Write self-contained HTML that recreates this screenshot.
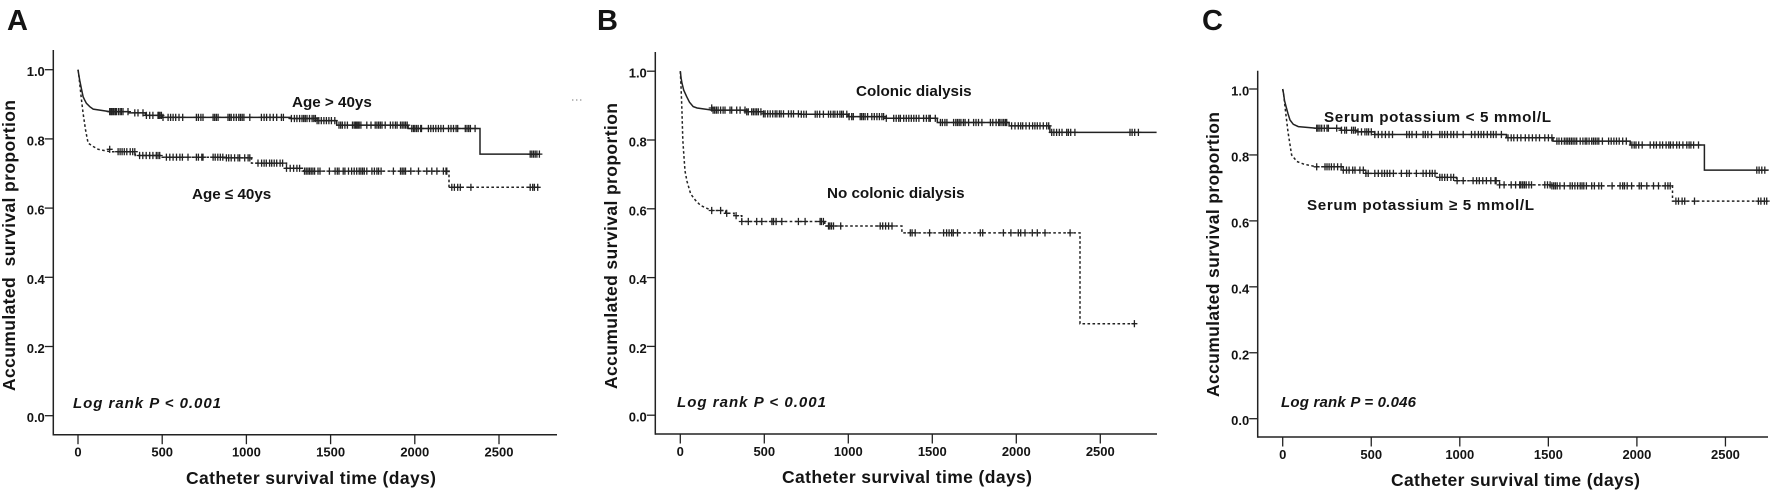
<!DOCTYPE html>
<html lang="en">
<head>
<meta charset="utf-8">
<title>Catheter survival curves</title>
<style>
html,body{margin:0;padding:0;background:#fff;width:1772px;height:491px;overflow:hidden}
svg{display:block}
text{font-family:"Liberation Sans",Arial,sans-serif;fill:#141414;font-weight:bold}
.panel{font-size:29px}
.title{font-size:17.5px}
.note{font-size:15.2px}
.logrank{font-size:15px;font-style:italic}
.tick{font-size:13px}
</style>
</head>
<body>
<svg id="chart" xmlns="http://www.w3.org/2000/svg" width="1772" height="491" viewBox="0 0 1772 491">
  <rect x="0" y="0" width="1772" height="491" fill="#fff"/>

  <text class="panel" x="7" y="30">A</text>
  <text class="panel" x="597" y="30">B</text>
  <text class="panel" x="1202" y="30">C</text>

  <text class="title" xml:space="preserve" transform="translate(15 391) rotate(-90)" textLength="291" lengthAdjust="spacing">Accumulated  survival proportion</text>
  <text class="title" transform="translate(617 389) rotate(-90)" textLength="286" lengthAdjust="spacing">Accumulated survival proportion</text>
  <text class="title" transform="translate(1219 397) rotate(-90)" textLength="285" lengthAdjust="spacing">Accumulated survival proportion</text>

  <text class="title" x="186" y="484" textLength="250" lengthAdjust="spacing">Catheter survival time (days)</text>
  <text class="title" x="782" y="483" textLength="250" lengthAdjust="spacing">Catheter survival time (days)</text>
  <text class="title" x="1391" y="486" textLength="249" lengthAdjust="spacing">Catheter survival time (days)</text>

  <text class="note" x="292" y="107">Age &gt; 40ys</text>
  <text class="note" x="192" y="199">Age ≤ 40ys</text>
  <text class="note" x="856" y="96">Colonic dialysis</text>
  <text class="note" x="827" y="198">No colonic dialysis</text>
  <text class="note" x="1324" y="122" textLength="227" lengthAdjust="spacing">Serum potassium &lt; 5 mmol/L</text>
  <text class="note" x="1307" y="210" textLength="227" lengthAdjust="spacing">Serum potassium ≥ 5 mmol/L</text>

  <text class="logrank" x="73" y="408" textLength="148" lengthAdjust="spacing">Log rank P &lt; 0.001</text>
  <text class="logrank" x="677" y="407" textLength="149" lengthAdjust="spacing">Log rank P &lt; 0.001</text>
  <text class="logrank" x="1281" y="407" textLength="135" lengthAdjust="spacing">Log rank P = 0.046</text>

  <path d="M572 100h1.4M576 100h1.4M580 100h1.4" stroke="#777" stroke-width="1" fill="none"/>
</svg>

<script>
const xTickValues = [0, 500, 1000, 1500, 2000, 2500];
const yTickValues = [0.0, 0.2, 0.4, 0.6, 0.8, 1.0];

const aSolidDays = [0,5,10,20,30,40,50,70,90,188,300,400,500,1260,1420,1536,1960,2387,2744];
const aSolidSurvival = [1,0.985,0.97,0.945,0.922,0.912,0.903,0.893,0.886,0.879,0.875,0.868,0.862,0.859,0.853,0.84,0.83,0.756,0.756];
const aSolidCensors = [188,195,200,207,214,222,228,240,250,258,267,297,337,356,386,406,426,445,475,480,487,495,505,535,550,565,580,600,622,703,715,730,742,802,812,822,832,891,900,910,925,940,955,965,975,985,1020,1089,1105,1120,1140,1160,1180,1208,1220,1267,1285,1300,1316,1330,1340,1350,1360,1375,1390,1400,1410,1420,1430,1445,1460,1475,1490,1505,1525,1550,1560,1570,1585,1600,1630,1640,1648,1655,1662,1670,1680,1715,1740,1765,1775,1785,1795,1805,1824,1855,1870,1885,1895,1915,1925,1935,1945,1955,1982,1992,2000,2010,2020,2035,2040,2081,2095,2110,2125,2140,2155,2170,2200,2215,2230,2245,2255,2300,2310,2320,2330,2358,2685,2695,2705,2715,2725,2740];

const aDashedDays = [0,5,10,20,30,45,60,90,120,192,340,487,880,1030,1238,1340,2203,2745];
const aDashedSurvival = [1,0.985,0.96,0.915,0.874,0.825,0.788,0.778,0.77,0.763,0.752,0.747,0.745,0.73,0.715,0.707,0.66,0.66];
const aDashedCensors = [188,238,250,262,275,290,310,325,337,366,385,405,426,445,465,475,485,525,545,565,585,605,620,653,703,715,735,742,802,815,830,845,860,881,895,910,930,950,960,990,1010,1020,1069,1090,1105,1118,1138,1150,1165,1180,1200,1215,1238,1260,1280,1300,1316,1345,1355,1365,1375,1385,1395,1405,1425,1437,1493,1527,1540,1550,1575,1585,1606,1625,1640,1655,1670,1680,1690,1700,1715,1745,1760,1775,1785,1800,1873,1915,1925,1935,1945,1976,2022,2071,2101,2131,2170,2185,2190,2220,2235,2255,2270,2333,2685,2700,2710,2730];

const bSolidDays = [0,5,10,20,38,55,77,100,190,395,495,713,1000,1226,1530,1957,2200,2835];
const bSolidSurvival = [1,0.98,0.965,0.945,0.926,0.91,0.897,0.893,0.887,0.882,0.876,0.875,0.868,0.863,0.851,0.841,0.822,0.822];
const bSolidCensors = [187,195,205,215,225,240,255,266,296,306,336,356,385,395,405,425,435,445,455,465,480,495,505,520,535,550,565,575,590,600,614,644,660,674,703,720,735,750,803,815,830,852,882,895,910,920,935,950,960,970,991,1005,1020,1030,1071,1080,1090,1100,1115,1140,1155,1170,1185,1200,1210,1226,1270,1285,1300,1310,1330,1345,1360,1375,1390,1405,1420,1448,1465,1480,1488,1518,1548,1560,1575,1587,1627,1640,1650,1660,1670,1685,1695,1716,1746,1760,1775,1795,1846,1860,1880,1895,1903,1915,1925,1935,1943,1972,1992,2012,2026,2038,2058,2078,2097,2111,2125,2141,2161,2181,2193,2211,2224,2240,2256,2272,2300,2310,2324,2349,2677,2689,2705,2727];

const bDashedDays = [0,5,10,15,22,28,40,62,90,120,187,270,320,366,830,860,1319,2379,2703];
const bDashedSurvival = [1,0.95,0.88,0.8,0.75,0.71,0.68,0.643,0.625,0.61,0.595,0.587,0.58,0.563,0.563,0.55,0.53,0.266,0.266];
const bDashedCensors = [187,240,276,332,366,405,455,485,545,555,570,604,703,743,832,840,852,882,890,900,912,955,1190,1205,1222,1240,1260,1369,1380,1398,1484,1567,1585,1600,1615,1625,1650,1786,1800,1923,1968,2012,2026,2052,2095,2125,2171,2320,2703];

const cSolidDays = [0,5,10,20,30,41,60,88,192,330,420,520,1263,1526,1962,2381,2744];
const cSolidSurvival = [1,0.985,0.965,0.945,0.925,0.906,0.893,0.886,0.881,0.875,0.87,0.862,0.852,0.842,0.83,0.754,0.754];
const cSolidCensors = [192,200,210,220,235,250,258,305,332,350,360,389,400,410,425,445,464,475,485,500,520,540,560,580,600,620,700,715,730,755,793,805,820,840,887,900,915,930,950,965,985,1019,1066,1085,1105,1120,1135,1155,1175,1190,1205,1235,1272,1290,1305,1325,1345,1370,1390,1410,1430,1450,1480,1500,1520,1548,1560,1575,1590,1600,1610,1620,1630,1640,1650,1660,1680,1695,1708,1717,1730,1745,1755,1765,1775,1785,1805,1840,1855,1870,1885,1900,1920,1940,1972,1985,1995,2010,2030,2075,2095,2110,2130,2145,2165,2180,2190,2205,2225,2240,2260,2282,2295,2305,2320,2348,2677,2690,2705,2722];

const cDashedDays = [0,5,10,20,30,50,80,120,192,340,470,868,981,1225,1520,2201,2740];
const cDashedSurvival = [1,0.985,0.96,0.915,0.87,0.8,0.78,0.772,0.764,0.754,0.744,0.732,0.722,0.709,0.706,0.66,0.66];
const cDashedCensors = [192,239,250,262,275,290,310,330,342,360,375,395,408,436,455,470,483,520,540,560,575,590,605,625,670,700,715,755,793,810,830,845,860,887,900,915,930,950,965,985,1019,1075,1095,1110,1130,1150,1175,1200,1205,1225,1250,1290,1315,1338,1345,1355,1365,1375,1390,1405,1480,1495,1510,1520,1530,1540,1550,1565,1590,1623,1635,1650,1665,1680,1690,1700,1715,1745,1760,1785,1800,1860,1905,1920,1930,1945,1970,2013,2025,2056,2094,2122,2160,2175,2188,2220,2235,2255,2270,2325,2686,2700,2720,2733];

const SVG_NS = 'http://www.w3.org/2000/svg';
const INK = '#222';
const SMOOTH_UNTIL_DAY = 200;
const chart = document.getElementById('chart');

function make(tag, parent) {
  const el = document.createElementNS(SVG_NS, tag);
  parent.appendChild(el);
  return el;
}

function makeScale(origin, unitsPerValue) {
  return function (value) { return origin + value * unitsPerValue; };
}

function drawAxes(id, g, layout, xScale, yScale) {
  const yAxis = make('line', g);
  
  
  yAxis.setAttribute('x1', layout.axisX);
  yAxis.setAttribute('x2', layout.axisX);
  yAxis.setAttribute('y1', layout.axisTop);
  yAxis.setAttribute('y2', layout.axisY + 0.75);
  yAxis.setAttribute('stroke', INK);
  yAxis.setAttribute('stroke-width', 1.5);

  const xAxis = make('line', g);
  
  
  xAxis.setAttribute('x1', layout.axisX);
  xAxis.setAttribute('x2', layout.axisRight);
  xAxis.setAttribute('y1', layout.axisY);
  xAxis.setAttribute('y2', layout.axisY);
  xAxis.setAttribute('stroke', INK);
  xAxis.setAttribute('stroke-width', 1.5);

  xTickValues.forEach(function (v) {
    const px = xScale(v);
    const tick = make('line', g);
    
    
    tick.setAttribute('x1', px);
    tick.setAttribute('x2', px);
    tick.setAttribute('y1', layout.axisY);
    tick.setAttribute('y2', layout.axisY + 9.5);
    tick.setAttribute('stroke', INK);
    tick.setAttribute('stroke-width', 1.3);

    const label = make('text', g);
    
    
    label.setAttribute('class', 'tick');
    label.setAttribute('x', px);
    label.setAttribute('y', layout.axisY + 22);
    label.setAttribute('text-anchor', 'middle');
    label.textContent = String(v);
  });

  yTickValues.forEach(function (v) {
    const py = yScale(v);
    const tick = make('line', g);
    
    
    tick.setAttribute('x1', layout.axisX - 8.5);
    tick.setAttribute('x2', layout.axisX);
    tick.setAttribute('y1', py);
    tick.setAttribute('y2', py);
    tick.setAttribute('stroke', INK);
    tick.setAttribute('stroke-width', 1.3);

    const label = make('text', g);
    
    
    label.setAttribute('class', 'tick');
    label.setAttribute('x', layout.axisX - 8.5);
    label.setAttribute('y', py + 6.5);
    label.setAttribute('text-anchor', 'end');
    label.textContent = v.toFixed(1);
  });
}

function survivalAt(days, survival, t) {
  let s = survival[0];
  for (let i = 0; i < days.length; i++) {
    if (days[i] <= t) s = survival[i];
  }
  return s;
}

function drawSeries(name, g, days, survival, censors, dashed, xScale, yScale) {
  let d = 'M' + xScale(days[0]).toFixed(1) + ' ' + yScale(survival[0]).toFixed(1);
  for (let i = 1; i < days.length; i++) {
    if (days[i] <= SMOOTH_UNTIL_DAY) {
      d += 'L' + xScale(days[i]).toFixed(1) + ' ' + yScale(survival[i]).toFixed(1);
    } else {
      d += 'H' + xScale(days[i]).toFixed(1) + 'V' + yScale(survival[i]).toFixed(1);
    }
  }
  const curve = make('path', g);
  
  
  curve.setAttribute('d', d);
  curve.setAttribute('fill', 'none');
  curve.setAttribute('stroke', INK);
  curve.setAttribute('stroke-width', 1.5);
  if (dashed) curve.setAttribute('stroke-dasharray', '2.6 2.4');

  censors.forEach(function (t) {
    const px = xScale(t);
    const py = yScale(survivalAt(days, survival, t));
    const mark = make('path', g);
    
    
    mark.setAttribute('d', 'M' + px.toFixed(1) + ' ' + (py - 3.6).toFixed(1) + 'V' + (py + 3.6).toFixed(1) +
      'M' + (px - 3).toFixed(1) + ' ' + py.toFixed(1) + 'H' + (px + 3).toFixed(1));
    mark.setAttribute('fill', 'none');
    mark.setAttribute('stroke', INK);
    mark.setAttribute('stroke-width', 1.3);
  });
}

function drawPanel(id, layout, solid, dashed) {
  const g = make('g', chart);
  
  
  const xScale = makeScale(layout.xZero, layout.pxPerDay);
  const yScale = makeScale(layout.yZero, -layout.pxPerUnit);
  drawAxes(id, g, layout, xScale, yScale);
  drawSeries(id + '-' + solid.name, g, solid.days, solid.survival, solid.censors, false, xScale, yScale);
  drawSeries(id + '-' + dashed.name, g, dashed.days, dashed.survival, dashed.censors, true, xScale, yScale);
}

drawPanel('a',
  {axisX: 53.3, axisTop: 50, axisY: 434.7, axisRight: 557, xZero: 78, pxPerDay: 0.1684, yZero: 415.7, pxPerUnit: 346},
  {name: 'age-over-40', days: aSolidDays, survival: aSolidSurvival, censors: aSolidCensors},
  {name: 'age-under-40', days: aDashedDays, survival: aDashedSurvival, censors: aDashedCensors});

drawPanel('b',
  {axisX: 655.3, axisTop: 52, axisY: 434, axisRight: 1157, xZero: 680.3, pxPerDay: 0.168, yZero: 415.2, pxPerUnit: 344},
  {name: 'colonic-dialysis', days: bSolidDays, survival: bSolidSurvival, censors: bSolidCensors},
  {name: 'no-colonic-dialysis', days: bDashedDays, survival: bDashedSurvival, censors: bDashedCensors});

drawPanel('c',
  {axisX: 1257.7, axisTop: 70.7, axisY: 437, axisRight: 1768, xZero: 1282.7, pxPerDay: 0.1771, yZero: 418.7, pxPerUnit: 329.7},
  {name: 'potassium-low', days: cSolidDays, survival: cSolidSurvival, censors: cSolidCensors},
  {name: 'potassium-high', days: cDashedDays, survival: cDashedSurvival, censors: cDashedCensors});
</script>
</body>
</html>
